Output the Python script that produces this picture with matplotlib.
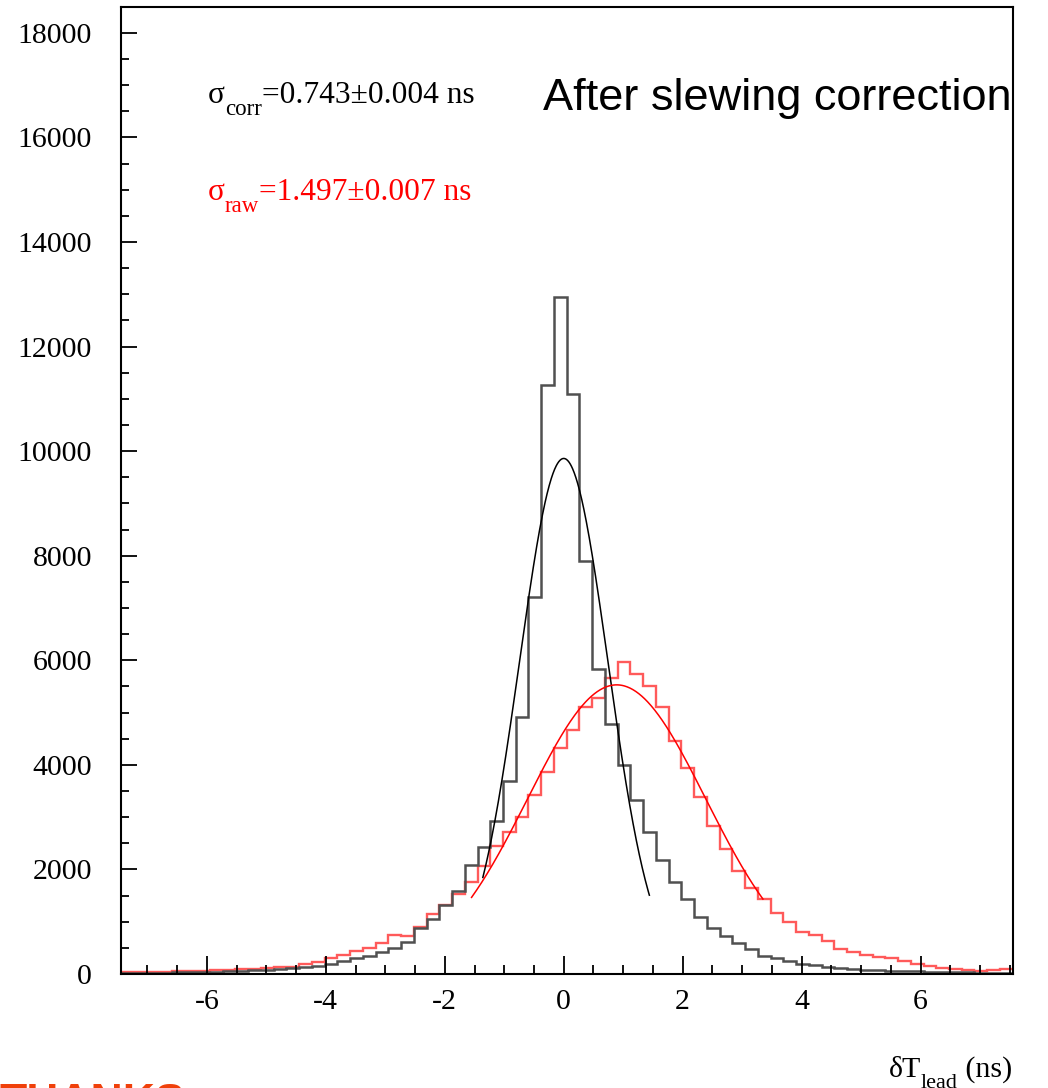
import numpy as np
import matplotlib
matplotlib.use("Agg")
import matplotlib.pyplot as plt
from matplotlib.ticker import MultipleLocator, FixedLocator

# ---------------- data ----------------
bin_lo = -7.45
bin_hi = 7.55
n_bins = 70

# counts per bin after slewing correction (black)
corr_counts = [17, 19, 22, 25, 29, 33, 38, 44, 50, 58,
               68, 80, 95, 110, 130, 160, 200, 250, 300, 350,
               420, 500, 620, 887, 1048, 1316, 1590, 2088, 2433, 2918,
               3697, 4910, 7216, 11264, 12956, 11092, 7893, 5837, 4790, 4004,
               3327, 2720, 2180, 1760, 1440, 1085, 880, 728, 600, 470,
               350, 300, 250, 200, 165, 135, 115, 95, 85, 72,
               65, 58, 50, 45, 40, 35, 30, 27, 25, 22]

# raw counts per bin (red)
raw_counts = [38, 38, 45, 45, 51, 57, 64, 77, 77, 90,
              102, 121, 140, 140, 185, 230, 300, 358, 441, 504,
              600, 741, 735, 900, 1150, 1316, 1527, 1750, 2069, 2452,
              2707, 3008, 3429, 3870, 4323, 4668, 5102, 5282, 5665, 5964,
              5741, 5517, 5102, 4464, 3933, 3378, 2835, 2388, 1973, 1653,
              1431, 1175, 1000, 810, 740, 640, 473, 415, 360, 320,
              300, 240, 200, 153, 121, 102, 77, 57, 70, 90]

# gaussian fit parameters: amplitude, mean, sigma ; fit range
corr_fit_params = [9860, 0.0, 0.743]
corr_fit_range = [-1.36, 1.44]
raw_fit_params = [5530, 0.89, 1.497]
raw_fit_range = [-1.55, 3.35]

x_ticks = [-6, -4, -2, 0, 2, 4, 6]
y_ticks = [0, 2000, 4000, 6000, 8000, 10000, 12000, 14000, 16000, 18000]

corr_label = ["σ", "corr", "=0.743±0.004 ns"]
raw_label = ["σ", "raw", "=1.497±0.007 ns"]
title_text = "After slewing correction"
x_label = ["δT", "lead", " (ns)"]
footer_text = "THANKS"

# ---------------- style ----------------
plt.rcParams["font.family"] = ["Liberation Serif", "DejaVu Serif"]
plt.rcParams["axes.unicode_minus"] = False

W, H = 1048, 1088
fig = plt.figure(figsize=(W / 100, H / 100), dpi=100)
ax = fig.add_axes([120.7 / W, (H - 974) / H, (1012.7 - 120.7) / W, (974 - 6.7) / H])

edges = np.linspace(bin_lo, bin_hi, n_bins + 1)
ax.stairs(raw_counts, edges, color="#ff5a5a", lw=1.7, baseline=None)
ax.stairs(corr_counts, edges, color="#505050", lw=1.8, baseline=None)


def gauss(x, p):
    return p[0] * np.exp(-0.5 * ((x - p[1]) / p[2]) ** 2)


xc = np.linspace(corr_fit_range[0], corr_fit_range[1], 400)
ax.plot(xc, gauss(xc, corr_fit_params), color="black", lw=1.1)
xr = np.linspace(raw_fit_range[0], raw_fit_range[1], 400)
ax.plot(xr, gauss(xr, raw_fit_params), color="#ff0000", lw=1.1)

ax.set_xlim(bin_lo, bin_hi)
ax.set_ylim(0, 18500)
ax.xaxis.set_major_locator(FixedLocator(x_ticks))
ax.yaxis.set_major_locator(FixedLocator(y_ticks))
ax.xaxis.set_minor_locator(MultipleLocator(0.5))
ax.yaxis.set_minor_locator(MultipleLocator(500))
ax.set_xticklabels([str(v) for v in x_ticks])
ax.set_yticklabels([str(v) for v in y_ticks])

ax.tick_params(which="both", direction="in", top=False, right=False, width=1.3, colors="black")
ax.tick_params(axis="y", which="major", length=11.5, pad=20.5, labelsize=21.5)
ax.tick_params(axis="y", which="minor", length=5.5)
ax.tick_params(axis="x", which="major", length=13, pad=11, labelsize=21.5)
ax.tick_params(axis="x", which="minor", length=6.5)
for s in ax.spines.values():
    s.set_linewidth(1.5)

renderer = fig.canvas.get_renderer()


def sub_text(x_px, base_px, parts, size, sub_size, sub_drop, color, align="left"):
    """Draw main + subscript + main text pieces starting at pixel x (from left),
    baseline at pixel y (from top)."""
    sizes = [size, sub_size, size]
    drops = [0, sub_drop, 0]
    widths = []
    for p, s in zip(parts, sizes):
        t = fig.text(0, 0, p, fontsize=s)
        widths.append(t.get_window_extent(renderer).width)
        t.remove()
    total = sum(widths)
    x = x_px if align == "left" else x_px - total
    for p, s, d, w in zip(parts, sizes, drops, widths):
        fig.text(x / W, (H - base_px - d) / H, p, fontsize=s, color=color,
                 va="baseline", ha="left")
        x += w


sub_text(208, 103, corr_label, 22.6, 16.5, 12, "black")
sub_text(208, 200, raw_label, 22.6, 16.5, 12, "#ff0000")

fig.text(543 / W, (H - 110) / H, title_text, fontsize=32.5, color="black", va="baseline", ha="left",
         family=["Liberation Sans", "DejaVu Sans"])
sub_text(1012, 1077, x_label, 21.5, 16, 11, "black", align="right")
# footer text of the slide, mostly cut off by the lower edge (as in the reference)
fig.text(0.0, (H - 1115) / H, footer_text, fontsize=32, color="#f0400a", va="baseline", ha="left",
         family=["Liberation Sans", "DejaVu Sans"], fontweight="bold")

fig.savefig("out.png", dpi=100)
